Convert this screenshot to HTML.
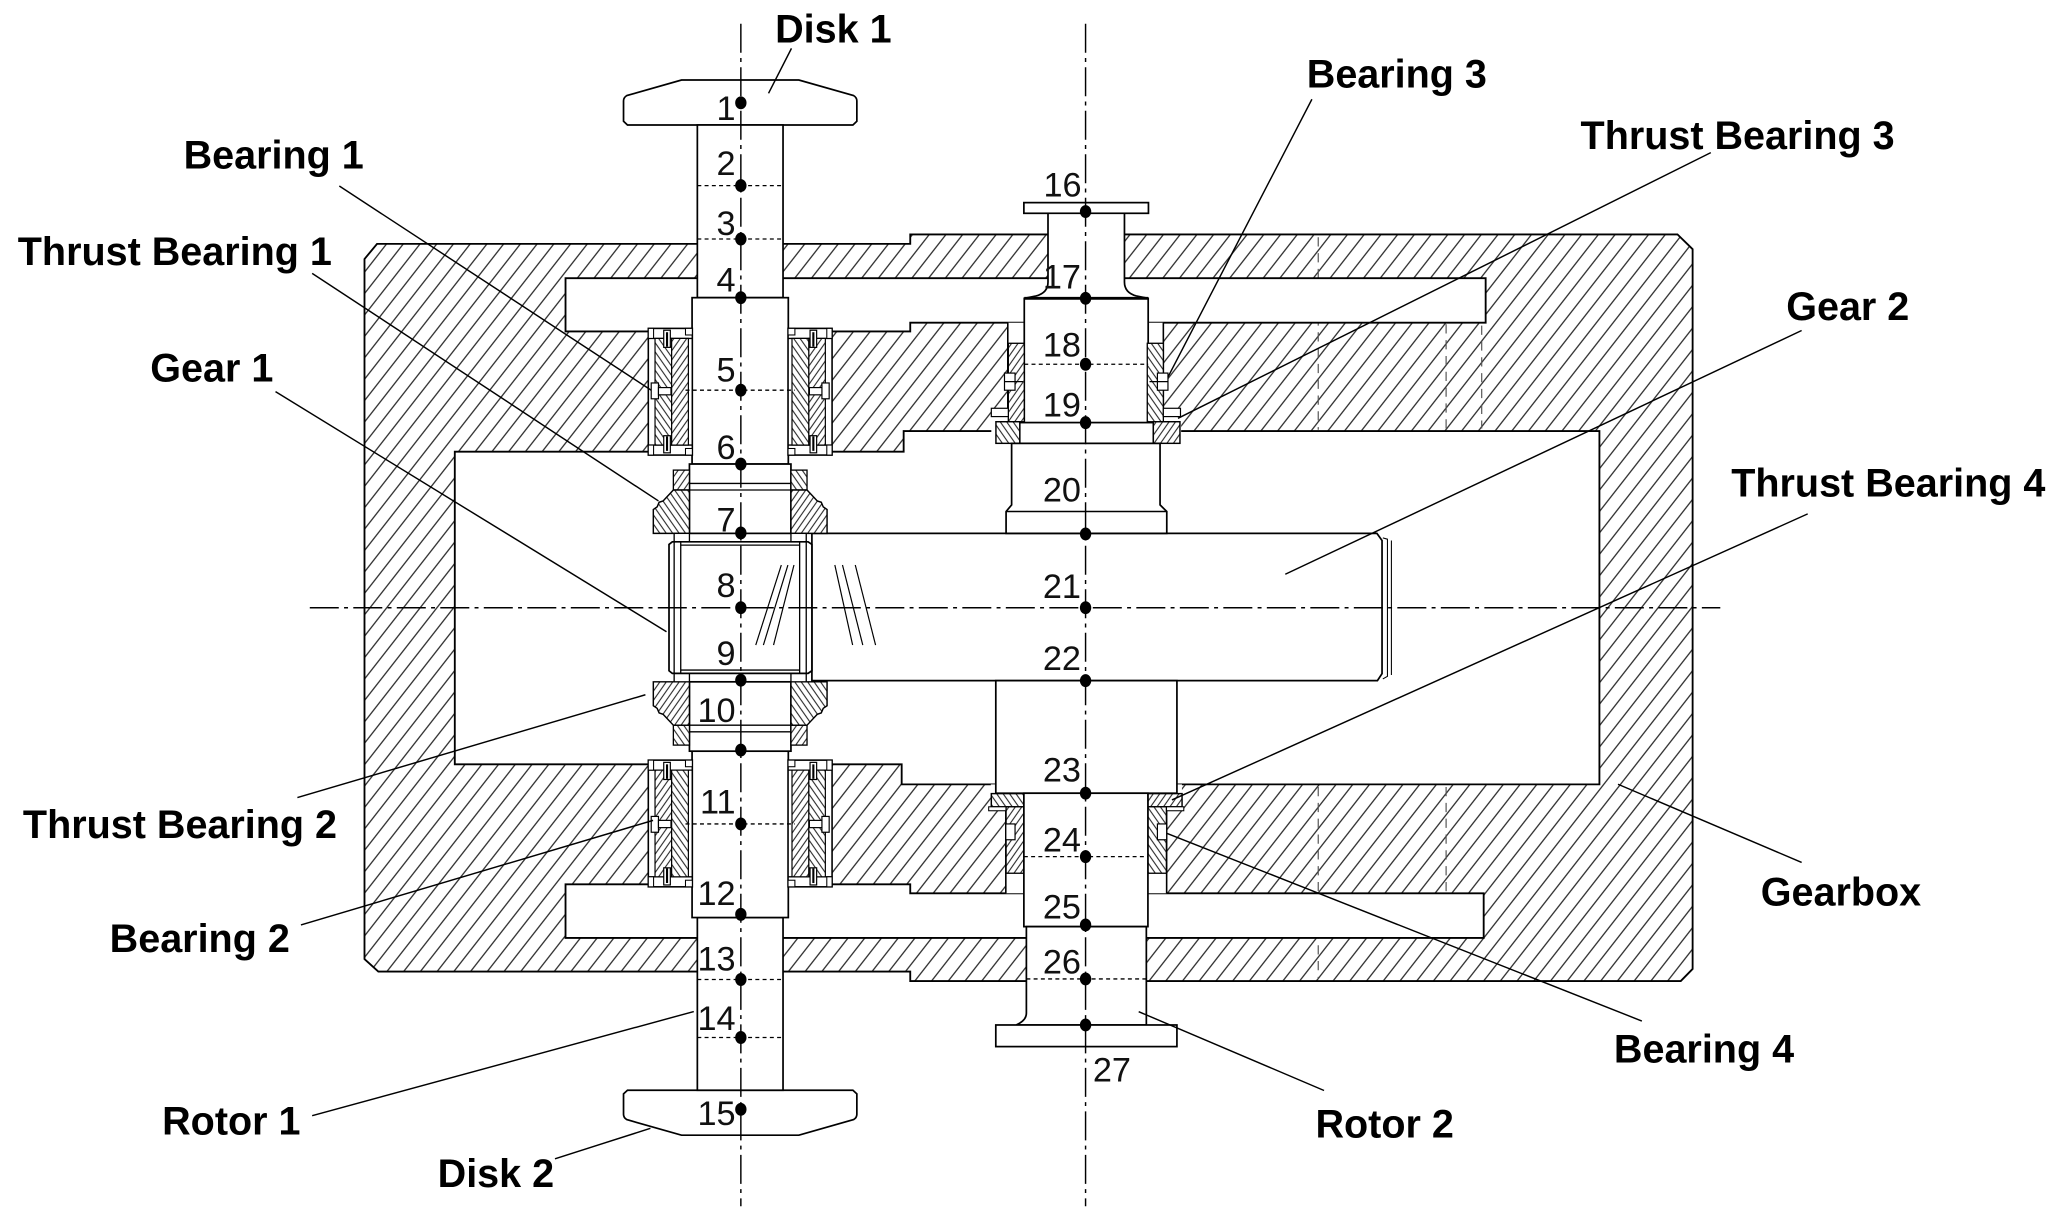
<!DOCTYPE html>
<html><head><meta charset="utf-8">
<style>
html,body{margin:0;padding:0;background:#fff;overflow:hidden;}
svg{display:block;}
.lbl{font-family:"Liberation Sans",Arial,sans-serif;font-weight:bold;font-size:30px;fill:#000;}
.num{font-family:"Liberation Sans",Arial,sans-serif;font-size:26px;fill:#111;}
</style></head><body>
<svg xmlns="http://www.w3.org/2000/svg" width="2067" height="1216" viewBox="0 0 1568 922.4" preserveAspectRatio="none">
<defs>
<pattern id="hw" width="10" height="10" patternUnits="userSpaceOnUse" patternTransform="rotate(38)">
 <rect width="10" height="10" fill="#fff"/>
 <line x1="5" y1="-1" x2="5" y2="11" stroke="#1a1a1a" stroke-width="0.9"/>
</pattern>
<pattern id="hf" width="4" height="4" patternUnits="userSpaceOnUse" patternTransform="rotate(35)">
 <rect width="4" height="4" fill="#fff"/>
 <line x1="2" y1="-1" x2="2" y2="5" stroke="#000" stroke-width="0.7"/>
</pattern>
<pattern id="hb" width="4" height="4" patternUnits="userSpaceOnUse" patternTransform="rotate(-35)">
 <rect width="4" height="4" fill="#fff"/>
 <line x1="2" y1="-1" x2="2" y2="5" stroke="#000" stroke-width="0.7"/>
</pattern>

<g id="r1L">
 <rect x="491.8" y="249.1" width="33.4" height="96.1" fill="#fff" stroke="#000" stroke-width="1.2"/>
 <line x1="491.8" y1="256.7" x2="525.2" y2="256.7" stroke="#000" stroke-width="1"/>
 <line x1="491.8" y1="337.6" x2="525.2" y2="337.6" stroke="#000" stroke-width="1"/>
 <rect x="496.9" y="256.7" width="12.6" height="80.9" fill="url(#hb)" stroke="#000" stroke-width="0.9"/>
 <rect x="509.5" y="256.7" width="12.7" height="80.9" fill="url(#hf)" stroke="#000" stroke-width="0.9"/>
 <rect x="494" y="290.5" width="5.5" height="12" fill="#fff" stroke="#000" stroke-width="0.9"/>
 <rect x="499.5" y="294" width="9.5" height="5.5" fill="#fff" stroke="#000" stroke-width="0.9"/>
 <rect x="503.5" y="250.5" width="5" height="13" fill="#fff" stroke="#000" stroke-width="0.9"/>
 <line x1="506" y1="252" x2="506" y2="263" stroke="#000" stroke-width="1.6"/>
 <rect x="503.5" y="330.5" width="5" height="13" fill="#fff" stroke="#000" stroke-width="0.9"/>
 <line x1="506" y1="331" x2="506" y2="342" stroke="#000" stroke-width="1.6"/>
 <rect x="491.8" y="249.1" width="4" height="7.6" fill="#fff" stroke="#000" stroke-width="0.8"/>
 <rect x="491.8" y="337.6" width="4" height="7.6" fill="#fff" stroke="#000" stroke-width="0.8"/>
 <rect x="520" y="249.1" width="5.2" height="5" fill="#fff" stroke="#000" stroke-width="0.8"/>
 <rect x="520" y="340.2" width="5.2" height="5" fill="#fff" stroke="#000" stroke-width="0.8"/>
 <rect x="510.8" y="356.6" width="12.2" height="15.1" fill="url(#hf)" stroke="#000" stroke-width="1"/>
 <path d="M510.8,371.7 L523,371.7 L523,404.6 L495.6,404.6 L495.6,386.5 L498.5,384.5 L500,381 L503,380 Z" fill="url(#hb)" stroke="#000" stroke-width="1.1"/>
 <rect x="511.4" y="404.6" width="11.6" height="6.4" fill="#fff" stroke="#000" stroke-width="1"/>
</g>

<g id="r1half">
 <path d="M517,60.7 L606,60.7 L647.5,72.5 Q650,74 650,76.5 L650,92 L647,94.8 L476,94.8 L473,92 L473,76.5 Q473,74 475.5,72.5 Z" fill="#fff" stroke="#000" stroke-width="1.3"/>
 <rect x="529" y="94.8" width="65" height="131" fill="#fff" stroke="#000" stroke-width="1.3"/>
 <rect x="525" y="225.8" width="73" height="126.2" fill="#fff" stroke="#000" stroke-width="1.3"/>
 <rect x="523" y="352" width="77" height="52.6" fill="#fff" stroke="#000" stroke-width="1.3"/>
 <line x1="515" y1="366.7" x2="608" y2="366.7" stroke="#000" stroke-width="1"/>
 <line x1="515" y1="371.7" x2="608" y2="371.7" stroke="#000" stroke-width="1"/>
 <use href="#r1L"/>
 <use href="#r1L" transform="translate(1123,0) scale(-1,1)"/>
</g>
</defs>

<rect x="0" y="0" width="1568" height="922.4" fill="#fff"/>

<path d="M286,185 L690.5,185 L690.5,177.8 L1272.5,177.8 L1284,189 L1284,735 L1275,744.2 L690.5,744.2 L690.5,737 L287,737 L276.5,727.5 L276.5,196.5 Z" fill="url(#hw)" stroke="#000" stroke-width="1.4"/>
<g stroke="#555" stroke-width="0.9" stroke-dasharray="7 5" fill="none">
 <line x1="1000" y1="180" x2="1000" y2="326"/>
 <line x1="1000" y1="597" x2="1000" y2="742"/>
 <line x1="1097" y1="246" x2="1097" y2="325"/>
 <line x1="1124" y1="247" x2="1124" y2="325"/>
 <line x1="1097" y1="597" x2="1097" y2="676"/>
</g>
<path d="M345,342.6 L685.5,342.6 L685.5,327 L1213.3,327 L1213.3,595 L684,595 L684,579.8 L345,579.8 Z" fill="#fff" stroke="#000" stroke-width="1.4"/>
<path d="M429,211 L1127,211 L1127,244.8 L690.5,244.8 L690.5,251.4 L429,251.4 Z" fill="#fff" stroke="#000" stroke-width="1.4"/>
<path d="M429,670.8 L690.5,670.8 L690.5,677.6 L1125.5,677.6 L1125.5,711.5 L429,711.5 Z" fill="#fff" stroke="#000" stroke-width="1.4"/>

<rect x="764.5" y="244.8" width="118" height="66" fill="#fff"/>
<rect x="752" y="309.7" width="144" height="18" fill="#fff"/>
<line x1="764.5" y1="244.8" x2="764.5" y2="309.7" stroke="#000" stroke-width="1.2"/>
<line x1="882.5" y1="244.8" x2="882.5" y2="309.7" stroke="#000" stroke-width="1.2"/>
<rect x="751.6" y="595" width="145" height="18" fill="#fff"/>
<rect x="763" y="612" width="122" height="65.6" fill="#fff"/>
<line x1="763" y1="612" x2="763" y2="677.6" stroke="#000" stroke-width="1.2"/>
<line x1="885" y1="612" x2="885" y2="677.6" stroke="#000" stroke-width="1.2"/>

<path d="M615.9,404.6 L1044.5,404.6 L1048.4,410 L1048.4,511 L1044.9,516.3 L615.9,516.3 Z" fill="#fff" stroke="#000" stroke-width="1.3"/>
<path d="M1049,408 L1052.5,409 L1052.5,513 L1049,515" fill="none" stroke="#000" stroke-width="0.8"/>
<line x1="1055.5" y1="410" x2="1055.5" y2="512" stroke="#000" stroke-width="0.8"/>

<rect x="776.7" y="153.7" width="94.5" height="8.1" fill="#fff" stroke="#000" stroke-width="1.3"/>
<path d="M795,161.8 L795,214 Q795,222 786,224.5 L777,226.3 L871,226.3 L862,224.5 Q853,222 853,214 L853,161.8 Z" fill="#fff" stroke="#000" stroke-width="1.3"/>
<rect x="777" y="226.3" width="94" height="94.3" fill="#fff" stroke="#000" stroke-width="1.3"/>
<line x1="777" y1="226.3" x2="871" y2="226.3" stroke="#000" stroke-width="2.2"/>
<rect x="764.9" y="260.4" width="12.1" height="59.5" fill="url(#hf)" stroke="#000" stroke-width="1"/>
<rect x="870.3" y="260.4" width="12.2" height="59.5" fill="url(#hb)" stroke="#000" stroke-width="1"/>
<rect x="762" y="283" width="8" height="13" fill="#fff" stroke="#000" stroke-width="0.9"/>
<line x1="762" y1="289.5" x2="776" y2="289.5" stroke="#000" stroke-width="0.9"/>
<rect x="878" y="283" width="8" height="13" fill="#fff" stroke="#000" stroke-width="0.9"/>
<line x1="872" y1="289.5" x2="886" y2="289.5" stroke="#000" stroke-width="0.9"/>
<rect x="752" y="309.7" width="12.9" height="6.3" fill="#fff" stroke="#000" stroke-width="0.9"/>
<rect x="882.5" y="309.7" width="13" height="6.3" fill="#fff" stroke="#000" stroke-width="0.9"/>
<rect x="773.6" y="320.6" width="101.3" height="15.7" fill="#fff" stroke="#000" stroke-width="1.2"/>
<rect x="755.5" y="319.9" width="18.1" height="16.4" fill="url(#hb)" stroke="#000" stroke-width="1.1"/>
<rect x="874.9" y="319.9" width="20.2" height="16.4" fill="url(#hf)" stroke="#000" stroke-width="1.1"/>
<path d="M767.4,336.3 L880,336.3 L880,383 L885.1,388 L885.1,404.6 L763.2,404.6 L763.2,388 L767.4,383 Z" fill="#fff" stroke="#000" stroke-width="1.3"/>
<line x1="763.2" y1="388" x2="885.1" y2="388" stroke="#000" stroke-width="1.1"/>
<rect x="755.4" y="516.3" width="137.4" height="85.4" fill="#fff" stroke="#000" stroke-width="1.3"/>
<rect x="752" y="602" width="24.7" height="10" fill="url(#hb)" stroke="#000" stroke-width="1.1"/>
<rect x="750" y="612" width="14" height="3" fill="#fff" stroke="#000" stroke-width="0.8"/>
<rect x="870.8" y="602" width="25.9" height="10" fill="url(#hf)" stroke="#000" stroke-width="1.1"/>
<rect x="884" y="612" width="14" height="3" fill="#fff" stroke="#000" stroke-width="0.8"/>
<rect x="763.2" y="612" width="13.5" height="50.4" fill="url(#hf)" stroke="#000" stroke-width="1"/>
<rect x="870.8" y="612" width="14" height="50.4" fill="url(#hb)" stroke="#000" stroke-width="1"/>
<rect x="763" y="625" width="7" height="12" fill="#fff" stroke="#000" stroke-width="0.9"/>
<rect x="878" y="625" width="7" height="12" fill="#fff" stroke="#000" stroke-width="0.9"/>
<rect x="776.7" y="601.7" width="94.1" height="101.2" fill="#fff" stroke="#000" stroke-width="1.3"/>
<path d="M778.6,702.9 L869.6,702.9 L869.6,777.5 L770.9,777.5 Q778.6,774 778.6,768.6 Z" fill="#fff" stroke="#000" stroke-width="1.3"/>
<rect x="755.4" y="777.5" width="137.4" height="16.4" fill="#fff" stroke="#000" stroke-width="1.3"/>

<use href="#r1half"/>
<use href="#r1half" transform="translate(0,921.8) scale(1,-1)"/>

<path d="M510,411 L613,411 L615.9,413 L615.9,508.8 L613,510.8 L510,510.8 L507.5,508.8 L507.5,413 Z" fill="#fff" stroke="#000" stroke-width="1.3"/>
<g stroke="#000" stroke-width="1" fill="none">
 <line x1="511.4" y1="411" x2="511.4" y2="510.8"/>
 <line x1="516.4" y1="411" x2="516.4" y2="510.8"/>
 <line x1="606.6" y1="411" x2="606.6" y2="510.8"/>
 <line x1="611.6" y1="411" x2="611.6" y2="510.8"/>
 <line x1="516.4" y1="413.5" x2="606.6" y2="413.5"/>
 <line x1="516.4" y1="508.3" x2="606.6" y2="508.3"/>
</g>
<g stroke="#000" stroke-width="0.9" fill="none">
 <line x1="592.7" y1="428.6" x2="573.3" y2="489.3"/>
 <line x1="597.7" y1="428.6" x2="579.1" y2="489.3"/>
 <line x1="602.3" y1="428.6" x2="586.8" y2="489.3"/>
 <line x1="633.3" y1="428.6" x2="646.8" y2="489.3"/>
 <line x1="639.1" y1="428.6" x2="654.5" y2="489.3"/>
 <line x1="648.8" y1="428.6" x2="664.2" y2="489.3"/>
</g>

<g stroke="#000" stroke-width="1.1" stroke-dasharray="22 4 3 4" fill="none">
 <line x1="562" y1="18" x2="562" y2="915"/>
 <line x1="823.5" y1="18" x2="823.5" y2="915"/>
 <line x1="235" y1="461" x2="1305" y2="461"/>
</g>

<g stroke="#000" stroke-width="1" stroke-dasharray="3 2.5" fill="none">
 <line x1="529" y1="140.8" x2="594" y2="140.8"/>
 <line x1="529" y1="181.3" x2="594" y2="181.3"/>
 <line x1="520" y1="296" x2="603" y2="296"/>
 <line x1="520" y1="625" x2="603" y2="625"/>
 <line x1="529" y1="743" x2="594" y2="743"/>
 <line x1="529" y1="787" x2="594" y2="787"/>
 <line x1="777" y1="276.3" x2="871" y2="276.3"/>
 <line x1="776.7" y1="649.8" x2="870.8" y2="649.8"/>
 <line x1="778.6" y1="742.6" x2="869.6" y2="742.6"/>
</g>

<g fill="#000">
 <ellipse cx="562" cy="78" rx="4.3" ry="4.9"/>
 <ellipse cx="562" cy="140.8" rx="4.3" ry="4.9"/>
 <ellipse cx="562" cy="181.3" rx="4.3" ry="4.9"/>
 <ellipse cx="562" cy="225.8" rx="4.3" ry="4.9"/>
 <ellipse cx="562" cy="296" rx="4.3" ry="4.9"/>
 <ellipse cx="562" cy="352" rx="4.3" ry="4.9"/>
 <ellipse cx="562" cy="404.3" rx="4.3" ry="4.9"/>
 <ellipse cx="562" cy="461" rx="4.3" ry="4.9"/>
 <ellipse cx="562" cy="516" rx="4.3" ry="4.9"/>
 <ellipse cx="562" cy="569" rx="4.3" ry="4.9"/>
 <ellipse cx="562" cy="625" rx="4.3" ry="4.9"/>
 <ellipse cx="562" cy="693.6" rx="4.3" ry="4.9"/>
 <ellipse cx="562" cy="743" rx="4.3" ry="4.9"/>
 <ellipse cx="562" cy="787" rx="4.3" ry="4.9"/>
 <ellipse cx="562" cy="841.5" rx="4.3" ry="4.9"/>
 <ellipse cx="823.5" cy="160.5" rx="4.3" ry="4.9"/>
 <ellipse cx="823.5" cy="226.3" rx="4.3" ry="4.9"/>
 <ellipse cx="823.5" cy="276.3" rx="4.3" ry="4.9"/>
 <ellipse cx="823.5" cy="320.6" rx="4.3" ry="4.9"/>
 <ellipse cx="823.5" cy="405" rx="4.3" ry="4.9"/>
 <ellipse cx="823.5" cy="461" rx="4.3" ry="4.9"/>
 <ellipse cx="823.5" cy="516.3" rx="4.3" ry="4.9"/>
 <ellipse cx="823.5" cy="601.7" rx="4.3" ry="4.9"/>
 <ellipse cx="823.5" cy="649.8" rx="4.3" ry="4.9"/>
 <ellipse cx="823.5" cy="701.6" rx="4.3" ry="4.9"/>
 <ellipse cx="823.5" cy="742.6" rx="4.3" ry="4.9"/>
 <ellipse cx="823.5" cy="777.5" rx="4.3" ry="4.9"/>
</g>

<g class="num" text-anchor="end">
 <text x="558" y="91">1</text>
 <text x="558" y="132.7">2</text>
 <text x="558" y="178.3">3</text>
 <text x="558" y="221">4</text>
 <text x="558" y="289.5">5</text>
 <text x="558" y="348">6</text>
 <text x="558" y="403.3">7</text>
 <text x="558" y="452.7">8</text>
 <text x="558" y="504.5">9</text>
 <text x="558" y="547.5">10</text>
 <text x="558" y="617">11</text>
 <text x="558" y="686.5">12</text>
 <text x="558" y="736.3">13</text>
 <text x="558" y="781.3">14</text>
 <text x="558" y="853.3">15</text>
 <text x="820.5" y="149">16</text>
 <text x="820" y="218.7">17</text>
 <text x="820" y="270.5">18</text>
 <text x="820" y="316">19</text>
 <text x="820" y="380.5">20</text>
 <text x="820" y="453.8">21</text>
 <text x="820" y="508.2">22</text>
 <text x="820" y="592.9">23</text>
 <text x="820" y="646">24</text>
 <text x="820" y="696.6">25</text>
 <text x="820" y="738.3">26</text>
</g>
<text class="num" x="829" y="820.5">27</text>

<g stroke="#000" stroke-width="1.1" fill="none">
 <line x1="600.4" y1="36.7" x2="583" y2="70.8"/>
 <line x1="257.4" y1="141.1" x2="494" y2="296"/>
 <line x1="236.8" y1="207.4" x2="499.5" y2="380"/>
 <line x1="209" y1="297.1" x2="505.6" y2="479.2"/>
 <line x1="225.6" y1="605" x2="489.6" y2="527"/>
 <line x1="228.3" y1="701.6" x2="495.4" y2="622.3"/>
 <line x1="236.8" y1="846.3" x2="526.3" y2="767.3"/>
 <line x1="421" y1="879" x2="493.4" y2="855.9"/>
 <line x1="995.2" y1="75.3" x2="886" y2="286"/>
 <line x1="1297.8" y1="115.8" x2="893.6" y2="317.3"/>
 <line x1="1366.7" y1="250.7" x2="975" y2="435.6"/>
 <line x1="1371.3" y1="389.8" x2="889" y2="606.8"/>
 <line x1="1366.7" y1="654.2" x2="1227.4" y2="594.9"/>
 <line x1="1245.5" y1="774.5" x2="885.1" y2="632.1"/>
 <line x1="1004.4" y1="827.2" x2="863.8" y2="767.4"/>
</g>

<g class="lbl">
 <text x="588" y="32.4">Disk 1</text>
 <text x="139.3" y="127.7">Bearing 1</text>
 <text x="13.5" y="201">Thrust Bearing 1</text>
 <text x="114" y="289.5">Gear 1</text>
 <text x="17.4" y="635.6">Thrust Bearing 2</text>
 <text x="83.2" y="722">Bearing 2</text>
 <text x="123" y="860.4">Rotor 1</text>
 <text x="332" y="900.4">Disk 2</text>
 <text x="991.3" y="66.5">Bearing 3</text>
 <text x="1199" y="113">Thrust Bearing 3</text>
 <text x="1355" y="242.7">Gear 2</text>
 <text x="1313.3" y="376.5">Thrust Bearing 4</text>
 <text x="1335.7" y="686.7">Gearbox</text>
 <text x="1224.3" y="806">Bearing 4</text>
 <text x="997.9" y="863">Rotor 2</text>
</g>
</svg>
</body></html>
